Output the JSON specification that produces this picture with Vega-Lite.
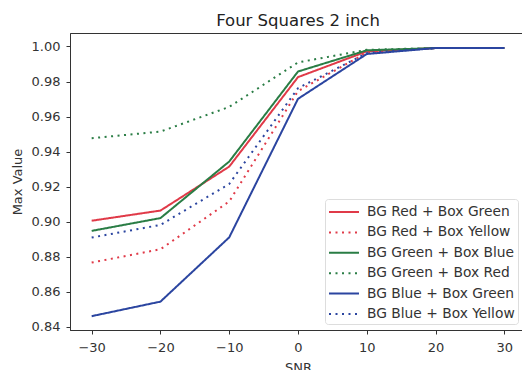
{
  "$schema": "https://vega.github.io/schema/vega-lite/v6.json",
  "autosize": "none",
  "width": 456,
  "height": 297,
  "padding": {"left": 70, "top": 33, "right": 0, "bottom": 40},
  "background": "white",
  "title": {
    "text": "Four Squares 2 inch",
    "fontSize": 16.5,
    "font": "DejaVu Sans",
    "fontWeight": "normal",
    "color": "#222",
    "offset": 4
  },
  "data": {
    "values": [
      {"series": "BG Red + Box Green", "snr": -30, "value": 0.9005},
      {"series": "BG Red + Box Green", "snr": -20, "value": 0.9063},
      {"series": "BG Red + Box Green", "snr": -10, "value": 0.9314},
      {"series": "BG Red + Box Green", "snr": 0, "value": 0.9825},
      {"series": "BG Red + Box Green", "snr": 10, "value": 0.9972},
      {"series": "BG Red + Box Green", "snr": 20, "value": 0.9991},
      {"series": "BG Red + Box Green", "snr": 30, "value": 0.9991},

      {"series": "BG Red + Box Yellow", "snr": -30, "value": 0.8766},
      {"series": "BG Red + Box Yellow", "snr": -20, "value": 0.8842},
      {"series": "BG Red + Box Yellow", "snr": -10, "value": 0.9115},
      {"series": "BG Red + Box Yellow", "snr": 0, "value": 0.9745},
      {"series": "BG Red + Box Yellow", "snr": 10, "value": 0.9965},
      {"series": "BG Red + Box Yellow", "snr": 20, "value": 0.9991},
      {"series": "BG Red + Box Yellow", "snr": 30, "value": 0.9991},

      {"series": "BG Green + Box Blue", "snr": -30, "value": 0.8947},
      {"series": "BG Green + Box Blue", "snr": -20, "value": 0.9020},
      {"series": "BG Green + Box Blue", "snr": -10, "value": 0.9343},
      {"series": "BG Green + Box Blue", "snr": 0, "value": 0.9857},
      {"series": "BG Green + Box Blue", "snr": 10, "value": 0.9978},
      {"series": "BG Green + Box Blue", "snr": 20, "value": 0.9991},
      {"series": "BG Green + Box Blue", "snr": 30, "value": 0.9991},

      {"series": "BG Green + Box Red", "snr": -30, "value": 0.9476},
      {"series": "BG Green + Box Red", "snr": -20, "value": 0.9514},
      {"series": "BG Green + Box Red", "snr": -10, "value": 0.9655},
      {"series": "BG Green + Box Red", "snr": 0, "value": 0.9909},
      {"series": "BG Green + Box Red", "snr": 10, "value": 0.9981},
      {"series": "BG Green + Box Red", "snr": 20, "value": 0.9991},
      {"series": "BG Green + Box Red", "snr": 30, "value": 0.9991},

      {"series": "BG Blue + Box Green", "snr": -30, "value": 0.8460},
      {"series": "BG Blue + Box Green", "snr": -20, "value": 0.8543},
      {"series": "BG Blue + Box Green", "snr": -10, "value": 0.8910},
      {"series": "BG Blue + Box Green", "snr": 0, "value": 0.9701},
      {"series": "BG Blue + Box Green", "snr": 10, "value": 0.9957},
      {"series": "BG Blue + Box Green", "snr": 20, "value": 0.9991},
      {"series": "BG Blue + Box Green", "snr": 30, "value": 0.9991},

      {"series": "BG Blue + Box Yellow", "snr": -30, "value": 0.8909},
      {"series": "BG Blue + Box Yellow", "snr": -20, "value": 0.8981},
      {"series": "BG Blue + Box Yellow", "snr": -10, "value": 0.9215},
      {"series": "BG Blue + Box Yellow", "snr": 0, "value": 0.9762},
      {"series": "BG Blue + Box Yellow", "snr": 10, "value": 0.9962},
      {"series": "BG Blue + Box Yellow", "snr": 20, "value": 0.9991},
      {"series": "BG Blue + Box Yellow", "snr": 30, "value": 0.9991}
    ]
  },
  "mark": {"type": "line", "strokeWidth": 2, "strokeCap": "butt"},
  "encoding": {
    "x": {
      "field": "snr",
      "type": "quantitative",
      "scale": {"domain": [-33.15, 33.15], "nice": false, "zero": false},
      "axis": {
        "values": [-30, -20, -10, 0, 10, 20, 30],
        "format": "d",
        "title": "SNR",
        "grid": false,
        "domainColor": "#333",
        "tickColor": "#333",
        "tickSize": 4,
        "labelPadding": 7,
        "titlePadding": 7
      }
    },
    "y": {
      "field": "value",
      "type": "quantitative",
      "scale": {"domain": [0.8381, 1.0077], "nice": false, "zero": false},
      "axis": {
        "values": [0.84, 0.86, 0.88, 0.90, 0.92, 0.94, 0.96, 0.98, 1.00],
        "format": ".2f",
        "title": "Max Value",
        "grid": false,
        "domainColor": "#333",
        "tickColor": "#333",
        "tickSize": 4,
        "labelPadding": 6,
        "titlePadding": 7
      }
    },
    "color": {
      "field": "series",
      "type": "nominal",
      "sort": null,
      "scale": {
        "domain": ["BG Red + Box Green", "BG Red + Box Yellow", "BG Green + Box Blue", "BG Green + Box Red", "BG Blue + Box Green", "BG Blue + Box Yellow"],
        "range": ["#e03a48", "#e03a48", "#2a7d45", "#2a7d45", "#2b45a0", "#2b45a0"]
      },
      "legend": {
        "title": null,
        "orient": "none",
        "legendX": 255,
        "legendY": 166,
        "padding": 3,
        "fillColor": "rgba(255,255,255,0.85)",
        "strokeColor": "#dddddd",
        "cornerRadius": 3,
        "symbolType": "M-1,0H2.333",
        "symbolSize": 324,
        "symbolStrokeWidth": 2,
        "symbolFillColor": "transparent",
        "labelOffset": 19,
        "labelFontSize": 13.8,
        "labelFont": "DejaVu Sans",
        "labelColor": "#333",
        "rowPadding": 3.4
      }
    },
    "strokeDash": {
      "field": "series",
      "type": "nominal",
      "sort": null,
      "scale": {
        "domain": ["BG Red + Box Green", "BG Red + Box Yellow", "BG Green + Box Blue", "BG Green + Box Red", "BG Blue + Box Green", "BG Blue + Box Yellow"],
        "range": [[1, 0], [2, 4.5], [1, 0], [2, 4.5], [1, 0], [2, 4.5]]
      }
    }
  },
  "config": {
    "view": {"stroke": "#333", "strokeWidth": 1},
    "axis": {
      "labelFont": "DejaVu Sans",
      "labelFontSize": 13,
      "labelColor": "#333",
      "titleFont": "DejaVu Sans",
      "titleFontSize": 13,
      "titleFontWeight": "normal",
      "titleColor": "#333"
    }
  }
}
